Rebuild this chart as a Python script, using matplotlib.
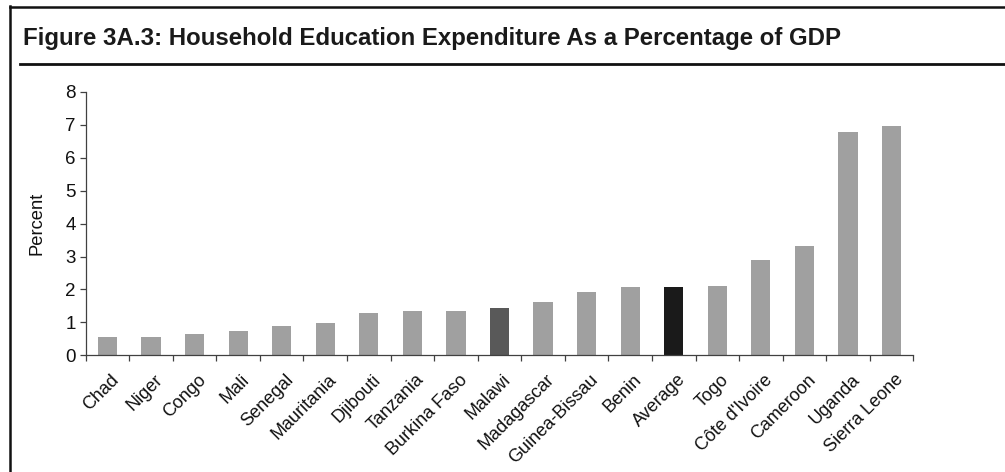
import matplotlib
matplotlib.use("Agg")
import matplotlib.pyplot as plt
from matplotlib.lines import Line2D
from matplotlib.transforms import ScaledTranslation

plt.rcParams['font.family'] = ['Liberation Sans', 'DejaVu Sans']

countries = ["Chad", "Niger", "Congo", "Mali", "Senegal", "Mauritania", "Djibouti",
             "Tanzania", "Burkina Faso", "Malawi", "Madagascar", "Guinea-Bissau",
             "Benin", "Average", "Togo", "Côte d'Ivoire", "Cameroon", "Uganda",
             "Sierra Leone"]
percent_gdp = [0.55, 0.55, 0.64, 0.73, 0.88, 0.98, 1.28, 1.34, 1.34, 1.43,
               1.62, 1.92, 2.07, 2.07, 2.10, 2.90, 3.32, 6.77, 6.98]
y_ticks = [0, 1, 2, 3, 4, 5, 6, 7, 8]

base_color = "#a0a0a0"
highlight = {"Malawi": "#595959", "Average": "#1a1a1a"}
colors = [highlight.get(c, base_color) for c in countries]

W, H = 1005, 472
fig = plt.figure(figsize=(W / 100, H / 100), dpi=100)

# box frame: top rule, left rule, rule under the heading
fig.add_artist(Line2D([10 / W, 1.0], [1 - 6.7 / H, 1 - 6.7 / H], color="#111111", lw=1.8))
fig.add_artist(Line2D([10 / W, 10 / W], [0, 1 - 6.0 / H], color="#111111", lw=1.8))
fig.add_artist(Line2D([20 / W, 1.0], [1 - 64.3 / H, 1 - 64.3 / H], color="#111111", lw=2.0))

fig.text(23 / W, 1 - 45 / H, "Figure 3A.3: Household Education Expenditure As a Percentage of GDP",
         fontsize=17.3, fontweight="bold", color="#1a1a1a", ha="left", va="baseline")

ax = fig.add_axes([85.7 / W, 1 - 355.3 / H, (913.3 - 85.7) / W, (355.3 - 92) / H])
x = list(range(len(countries)))
ax.bar(x, percent_gdp, width=0.44, color=colors, zorder=2)

ax.set_xlim(-0.5, len(countries) - 0.5)
ax.set_ylim(0, 8)
ax.set_yticks(y_ticks)
ax.set_yticklabels([str(v) for v in y_ticks], fontsize=13.5, color="#111111")

for s in ["top", "right"]:
    ax.spines[s].set_visible(False)
for s in ["left", "bottom"]:
    ax.spines[s].set_color("#404040")
    ax.spines[s].set_linewidth(0.9)

ax.tick_params(axis="y", direction="out", length=4.3, width=0.9, color="#404040", pad=3)

# category labels at centres, tick marks at category boundaries
ax.set_xticks(x)
ax.tick_params(axis="x", which="major", length=0, pad=11.5)
ax.set_xticks([i - 0.5 for i in range(len(countries) + 1)], minor=True)
ax.tick_params(axis="x", which="minor", direction="out", length=4.3, width=0.9, color="#404040")
ax.set_xticklabels(countries, rotation=45, ha="right", va="top", fontsize=13, color="#111111")
shift = ScaledTranslation(15 / 100, 0, fig.dpi_scale_trans)
for lbl in ax.get_xticklabels():
    lbl.set_transform(lbl.get_transform() + shift)

ax.set_ylabel("Percent", fontsize=13.2, color="#111111", labelpad=14)

fig.savefig("out.png", dpi=100)
